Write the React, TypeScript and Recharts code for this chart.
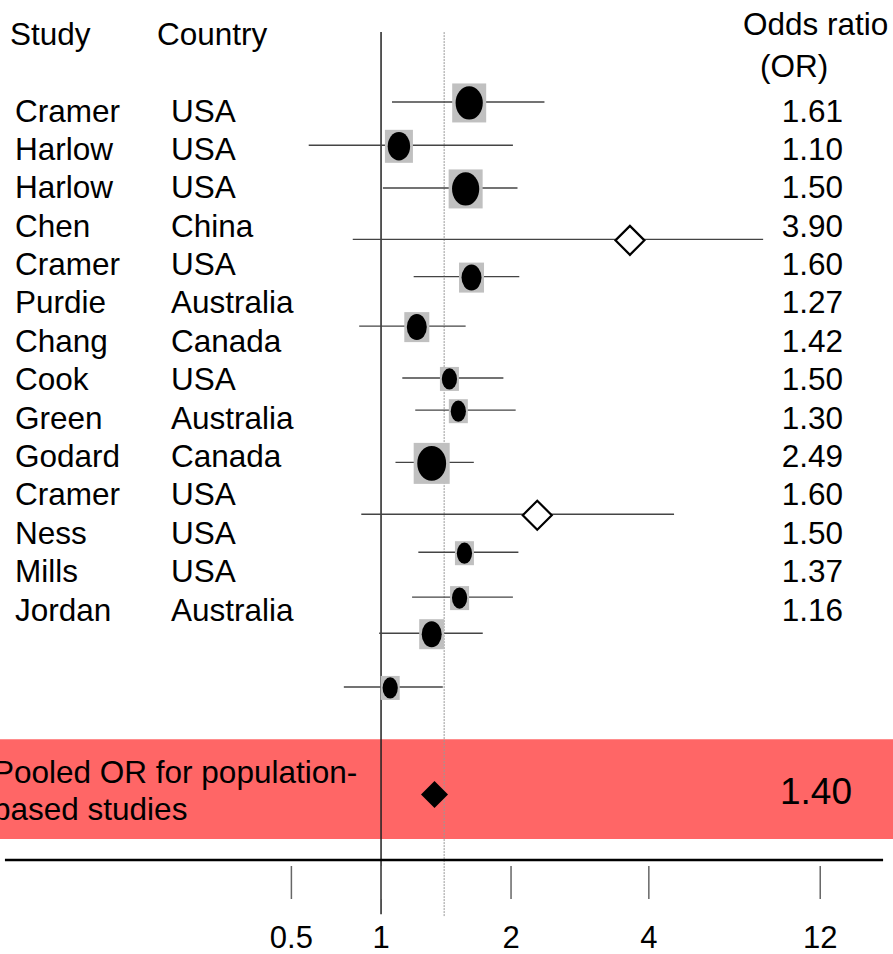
import { ComposedChart, Scatter, XAxis, YAxis, ErrorBar, ReferenceLine, ReferenceArea } from 'recharts';

const FONT = '"Liberation Sans", Arial, sans-serif';

// table columns
const STUDIES = ['Cramer', 'Harlow', 'Harlow', 'Chen', 'Cramer', 'Purdie', 'Chang', 'Cook', 'Green', 'Godard', 'Cramer', 'Ness', 'Mills', 'Jordan'];
const COUNTRIES = ['USA', 'USA', 'USA', 'China', 'USA', 'Australia', 'Canada', 'USA', 'Australia', 'Canada', 'USA', 'USA', 'USA', 'Australia'];
const OR_LABELS = ['1.61', '1.10', '1.50', '3.90', '1.60', '1.27', '1.42', '1.50', '1.30', '2.49', '1.60', '1.50', '1.37', '1.16'];

// plotted estimates (as drawn), confidence limits, vertical row position of each marker
const ESTIMATES = [1.6, 1.1, 1.57, 3.77, 1.62, 1.21, 1.44, 1.51, 1.31, 2.3, 1.56, 1.52, 1.31, 1.05];
const CI_LOW = [1.06, 0.68, 1.01, 0.86, 1.19, 0.89, 1.12, 1.2, 1.08, 0.9, 1.22, 1.18, 0.99, 0.82];
const CI_HIGH = [2.39, 2.02, 2.07, 7.67, 2.09, 1.57, 1.92, 2.05, 1.64, 4.77, 2.08, 2.02, 1.72, 1.39];
const MARKER_ROWS = [-0.21, 0.92, 2.03, 3.37, 4.34, 5.63, 6.98, 7.82, 9.18, 10.53, 11.52, 12.69, 13.63, 15.03];
const WEIGHTS = [34, 28, 34, 0, 25, 25, 19, 19, 36, 0, 19, 19, 25, 19];
const KINDS = ['study', 'study', 'study', 'subgroup', 'study', 'study', 'study', 'study', 'study', 'subgroup', 'study', 'study', 'study', 'study'];

// pooled estimate
const POOLED_OR = 1.4;
const POOLED_MARKER = 1.33;
const POOLED_ROW = 17.83;
const POOLED_BAND = [16.39, 18.99];

// axis
const TICK_VALUES = [0.62, 1, 2, 4.17, 10.4];
const TICK_LABELS = ['0.5', '1', '2', '4', '12'];
const X_DOMAIN = [0.1311, 15.33];
const Y_DOMAIN = [-2.866, 19.539];
const AXIS_EXTENT = [0.1346, 14.54];

const markerData = STUDIES.map((_, i) => ({
  x: ESTIMATES[i],
  row: MARKER_ROWS[i],
  err: [ESTIMATES[i] - CI_LOW[i], CI_HIGH[i] - ESTIMATES[i]],
  weight: WEIGHTS[i],
  kind: KINDS[i],
}));

const tableData = STUDIES.map((s, i) => ({ x: 1, row: i, study: s, country: COUNTRIES[i], or: OR_LABELS[i] }));
const pooledData = [{ x: POOLED_MARKER, row: POOLED_ROW }];

const StudyMarker = (props: any) => {
  const { cx, cy, payload } = props;
  if (payload.kind === 'subgroup') {
    const h = 14.5;
    return (
      <path
        d={`M${cx - h},${cy + 1}L${cx},${cy + 1 - h}L${cx + h},${cy + 1}L${cx},${cy + 1 + h}Z`}
        fill="#fff"
        stroke="#000"
        strokeWidth={2.2}
      />
    );
  }
  const w = payload.weight;
  const hh = w + 5;
  return (
    <g>
      <rect x={cx - w / 2} y={cy + 1 - hh / 2} width={w} height={hh} fill="#c0c0c0" />
      <ellipse cx={cx} cy={cy + 1} rx={w * 0.4} ry={w * 0.4 + 3} fill="#000" />
    </g>
  );
};

const PooledMarker = (props: any) => {
  const { cx, cy } = props;
  const h = 13.5;
  return <path d={`M${cx - h},${cy}L${cx},${cy - h}L${cx + h},${cy}L${cx},${cy + h}Z`} fill="#000" />;
};

const TableRow = (props: any) => {
  const { cy, payload } = props;
  const y = cy + 11.5;
  return (
    <g fontFamily={FONT} fontSize={31.5} fill="#000">
      <text x={15} y={y}>{payload.study}</text>
      <text x={171} y={y}>{payload.country}</text>
      <text x={843} y={y} textAnchor="end">{payload.or}</text>
    </g>
  );
};

const AxisTick = (props: any) => {
  const { x, y, payload } = props;
  const idx = TICK_VALUES.indexOf(payload.value);
  return (
    <g>
      <line x1={x} x2={x} y1={y + 6} y2={y + 39} stroke="#666" strokeWidth={1.5} />
      <text x={x} y={y + 88} textAnchor="middle" fontFamily={FONT} fontSize={31} fill="#000">
        {TICK_LABELS[idx]}
      </text>
    </g>
  );
};

export default function App() {
  return (
    <div style={{ position: 'absolute', left: 0, top: 0, width: 893, height: 954, background: '#fff' }}>
      <ComposedChart width={893} height={954} margin={{ top: 0, right: 0, bottom: 0, left: 0 }}>
        <XAxis
          dataKey="x"
          type="number"
          scale="log"
          domain={X_DOMAIN}
          allowDataOverflow
          ticks={TICK_VALUES}
          interval={0}
          height={94}
          axisLine={false}
          tickLine={false}
          tickSize={0}
          tickMargin={0}
          tick={<AxisTick />}
        />
        <YAxis dataKey="row" type="number" domain={Y_DOMAIN} reversed hide allowDataOverflow />
        <ReferenceLine
          segment={[{ x: 1, y: -2.03 }, { x: 1, y: 20.95 }]}
          stroke="#222"
          strokeWidth={1.5}
          ifOverflow="visible"
        />
        <ReferenceLine
          segment={[{ x: POOLED_OR, y: -2.03 }, { x: POOLED_OR, y: 21.02 }]}
          stroke="#999"
          strokeWidth={1}
          strokeDasharray="2 1"
          ifOverflow="visible"
        />
        <ReferenceLine
          segment={[{ x: AXIS_EXTENT[0], y: Y_DOMAIN[1] }, { x: AXIS_EXTENT[1], y: Y_DOMAIN[1] }]}
          stroke="#000"
          strokeWidth={2.5}
          ifOverflow="visible"
        />
        <Scatter data={tableData} shape={<TableRow />} isAnimationActive={false} />
        <Scatter data={markerData} shape={<StudyMarker />} isAnimationActive={false}>
          <ErrorBar dataKey="err" direction="x" width={0} stroke="#444" strokeWidth={1.4} isAnimationActive={false} />
        </Scatter>
        <ReferenceArea y1={POOLED_BAND[0]} y2={POOLED_BAND[1]} fill="#ff0000" fillOpacity={0.6} stroke="none" ifOverflow="visible" />
        <Scatter data={pooledData} shape={<PooledMarker />} isAnimationActive={false} />
      </ComposedChart>
      <svg
        width={893}
        height={954}
        style={{ position: 'absolute', left: 0, top: 0, pointerEvents: 'none' }}
        fontFamily={FONT}
        fontSize={31.5}
      >
        <text x={10} y={45}>Study</text>
        <text x={157} y={45}>Country</text>
        <text x={743} y={35}>Odds ratio</text>
        <text x={760} y={77}>(OR)</text>
        <text x={-7} y={783}>Pooled OR for population-</text>
        <text x={-7} y={820}>based studies</text>
        <text x={852} y={804} textAnchor="end" fontSize={37}>{POOLED_OR.toFixed(2)}</text>
      </svg>
    </div>
  );
}
